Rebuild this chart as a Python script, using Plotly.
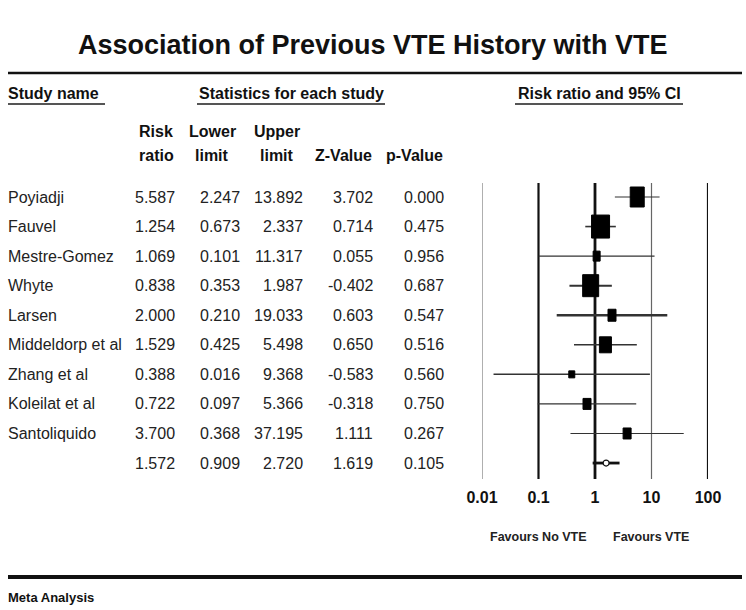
import numpy as np
import plotly.graph_objects as go

# ---------------- data ----------------
studies = ["Poyiadji", "Fauvel", "Mestre-Gomez", "Whyte", "Larsen",
           "Middeldorp et al", "Zhang et al", "Koleilat et al", "Santoliquido", ""]
risk_ratio = [5.587, 1.254, 1.069, 0.838, 2.000, 1.529, 0.388, 0.722, 3.700, 1.572]
lower_limit = [2.247, 0.673, 0.101, 0.353, 0.210, 0.425, 0.016, 0.097, 0.368, 0.909]
upper_limit = [13.892, 2.337, 11.317, 1.987, 19.033, 5.498, 9.368, 5.366, 37.195, 2.720]
z_value = [3.702, 0.714, 0.055, -0.402, 0.603, 0.650, -0.583, -0.318, 1.111, 1.619]
p_value = [0.000, 0.475, 0.956, 0.687, 0.547, 0.516, 0.560, 0.750, 0.267, 0.105]
tick_vals = [0.01, 0.1, 1, 10, 100]
tick_text = ["0.01", "0.1", "1", "10", "100"]

# ---------------- style ----------------
W, H = 746, 610
FONT = "Liberation Sans, Arial, sans-serif"
box_w = [14, 18, 7, 16, 8, 12, 6, 8, 8]
box_h = [20, 23, 10, 22, 12, 16, 7, 11, 11]
ci_w = [1.2, 1.6, 1.2, 2.0, 2.6, 1.6, 1.5, 1.2, 1.2]
vline_style = {0.01: ("#7a7a7a", 1.2), 0.1: ("#111", 2.2), 1: ("#111", 2.8),
               10: ("#666", 1.2), 100: ("#111", 2.2)}

row0_px, row_step = 197.0, 29.56
y_top = -row0_px / row_step
y_bot = (H - row0_px) / row_step


def px_x(p):
    return p / W


def px_y(p):
    return 1 - p / H


def row_of(p):
    return (p - row0_px) / row_step


# the forest axis is a log10 scale (drawn as linear axis of log10 values)
lg = np.log10
rr_l = lg(risk_ratio)
lo_l = lg(lower_limit)
hi_l = lg(upper_limit)
tk_l = lg(tick_vals)

fig = go.Figure()

# vertical reference lines
for t, tl in zip(tick_vals, tk_l):
    c, lw = vline_style[t]
    fig.add_trace(go.Scatter(x=[tl, tl], y=[row_of(183), row_of(479)], mode="lines",
                             line=dict(color=c, width=lw), hoverinfo="skip",
                             showlegend=False, cliponaxis=False))

n = len(studies)
# confidence intervals
for i in range(n):
    last = i == n - 1
    fig.add_trace(go.Scatter(x=[lo_l[i], hi_l[i]], y=[i, i], mode="lines",
                             line=dict(color="#111" if last else "#333",
                                       width=2.8 if last else ci_w[i]),
                             hoverinfo="skip", showlegend=False))

# study boxes (pixel-sized, anchored at the risk ratio)
shapes = []
for i in range(n - 1):
    shapes.append(dict(type="rect", xref="x", yref="y",
                       xsizemode="pixel", ysizemode="pixel",
                       xanchor=float(rr_l[i]), yanchor=i,
                       x0=-box_w[i] / 2, x1=box_w[i] / 2,
                       y0=-box_h[i] / 2, y1=box_h[i] / 2,
                       fillcolor="#000", line=dict(color="#000", width=1)))

# summary point
fig.add_trace(go.Scatter(x=[rr_l[-1]], y=[n - 1], mode="markers",
                         marker=dict(symbol="circle", size=6, color="white",
                                     line=dict(color="#111", width=1.2)),
                         hoverinfo="skip", showlegend=False))

# tick labels
fig.add_trace(go.Scatter(x=tk_l, y=[row_of(499)] * len(tick_vals), mode="text",
                         text=tick_text, cliponaxis=False,
                         textfont=dict(family=FONT, size=16, color="#111", weight="bold"),
                         hoverinfo="skip", showlegend=False))

annotations = []


def add_text(x, y, text, size, bold=False, xanchor="left", yref="paper", color="#111"):
    annotations.append(dict(x=x, y=y, xref="paper", yref=yref, text=text,
                            showarrow=False, xanchor=xanchor, yanchor="middle",
                            font=dict(family=FONT, size=size, color=color,
                                      weight="bold" if bold else "normal")))


# title
add_text(px_x(373), px_y(45), "Association of Previous VTE History with VTE", 27,
         bold=True, xanchor="center")

# group headers
add_text(px_x(6), px_y(93), "Study name", 16, bold=True)
add_text(px_x(291), px_y(93), "Statistics for each study", 16, bold=True, xanchor="center")
add_text(px_x(599), px_y(93), "Risk ratio and 95% CI", 16, bold=True, xanchor="center")

# column headers
col_centers = [156, 212, 277, 343, 414]
hdr_top = ["Risk", "Lower", "Upper", "", ""]
hdr_bot = ["ratio", "limit", "limit", "Z-Value", "p-Value"]
for cx, t1, t2 in zip(col_centers, hdr_top, hdr_bot):
    if t1:
        add_text(px_x(cx), px_y(131), t1, 16, bold=True, xanchor="center")
    add_text(px_x(cx), px_y(156), t2, 16, bold=True, xanchor="center")

# table body
col_right = [177, 242, 305, 375, 446]
for i in range(n):
    add_text(px_x(6), i, studies[i], 16, yref="y", color="#222")
    vals = [risk_ratio[i], lower_limit[i], upper_limit[i], z_value[i], p_value[i]]
    for cr, v in zip(col_right, vals):
        add_text(px_x(cr), i, f"{v:.3f}", 16, xanchor="right", yref="y", color="#222")

# favours labels
add_text(px_x(538), px_y(537), "Favours No VTE", 12.5, bold=True, xanchor="center", color="#222")
add_text(px_x(651), px_y(537), "Favours VTE", 12.5, bold=True, xanchor="center", color="#222")

# footer
add_text(px_x(6), px_y(597), "Meta Analysis", 13, bold=True)


def hline(x0, x1, y, w, color="#111"):
    shapes.append(dict(type="line", xref="paper", yref="paper",
                       x0=px_x(x0), x1=px_x(x1), y0=px_y(y), y1=px_y(y),
                       line=dict(color=color, width=w)))


hline(8, 742, 73, 2.5)
hline(8, 105, 104, 2, "#555")
hline(197, 385, 104, 2, "#555")
hline(515, 683, 104, 2, "#555")
hline(8, 742, 577, 4)

fig.update_layout(
    width=W, height=H, margin=dict(l=0, r=0, t=0, b=0),
    paper_bgcolor="white", plot_bgcolor="white",
    xaxis=dict(range=[float(tk_l[0]), float(tk_l[-1])], domain=[482 / W, 708 / W],
               visible=False, fixedrange=True),
    yaxis=dict(range=[y_bot, y_top], domain=[0, 1], visible=False, fixedrange=True),
    shapes=shapes, annotations=annotations, showlegend=False,
)

fig.write_html("out.html", config={"displayModeBar": False},
               post_script="document.body.style.margin='0';document.body.style.overflow='hidden';")
